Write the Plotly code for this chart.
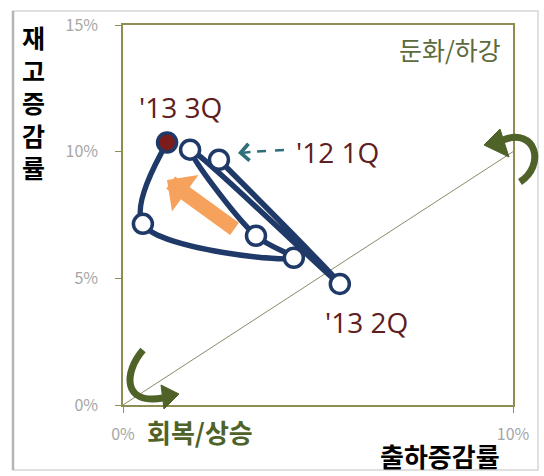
import plotly.graph_objects as go

# Data (percent)
quarters = ["'12 1Q", "p2", "p3", "p4", "p5", "p6", "'13 3Q"]
shipment_growth = [2.46, 5.56, 1.72, 3.41, 4.38, 0.51, 1.13]   # 출하증감률 (%)
inventory_growth = [9.68, 4.78, 10.08, 6.68, 5.81, 7.15, 10.36]  # 재고증감률 (%)
marker_fill = ["white"] * 6 + ["#7B1C1C"]

x_ticks = [0, 10]
x_ticktext = ["0%", "10%"]
y_ticks = [0, 5, 10, 15]
y_ticktext = ["0%", "5%", "10%", "15%"]

# layout geometry
W, H = 544, 476
ML, MR, MT, MB = 123, 31, 25, 71
PW, PH = W - ML - MR, H - MT - MB


def pp(x, y):
    """pixel -> paper coords (for decorations)"""
    return (x - ML) / PW, (H - MB - y) / PH


def path(cmds):
    out = []
    for c in cmds:
        if isinstance(c, str):
            out.append(c)
        else:
            a, b = pp(*c)
            out.append(f"{a:.4f},{b:.4f}")
    return " ".join(out)


NAVY = "#1F3A68"
OLIVE = "#8E8E52"
GREEN = "#4F6228"
GRAY = "#A6A6A6"
KR = "Noto Sans CJK KR"

fig = go.Figure()

# diagonal reference line
fig.add_trace(go.Scatter(x=[0, 10], y=[0, 10], mode="lines",
                         line=dict(color="#8A8A6A", width=1), hoverinfo="skip",
                         showlegend=False))

fig.add_trace(go.Scatter(
    x=shipment_growth, y=inventory_growth, mode="lines+markers",
    line=dict(color=NAVY, width=5.5, shape="spline", smoothing=1.0),
    marker=dict(size=19, color=marker_fill, line=dict(color=NAVY, width=3.5)),
    showlegend=False, text=quarters))

shapes = []
# outer frame
x0, y0 = pp(13, 470)
x1, y1 = pp(538, 11)
shapes.append(dict(type="rect", xref="paper", yref="paper", x0=x0, y0=y0, x1=x1, y1=y1,
                   line=dict(color="#D6D6D6", width=1.5), layer="below"))
shapes.append(dict(type="line", xref="paper", yref="paper", x0=x0, y0=y0, x1=x0, y1=y1,
                   line=dict(color="#B5B5B5", width=2.5)))

# green curved arrows (decoration)
shapes.append(dict(type="path", xref="paper", yref="paper",
                   path=path(["M", (520, 182), "C", (546, 165), (536, 127), (503, 140)]),
                   line=dict(color=GREEN, width=7)))
shapes.append(dict(type="path", xref="paper", yref="paper",
                   path=path(["M", (484, 145), "L", (500, 129), "L", (509, 157), "Z"]),
                   fillcolor=GREEN, line=dict(color=GREEN, width=1)))
shapes.append(dict(type="path", xref="paper", yref="paper",
                   path=path(["M", (143, 350), "C", (124, 372), (122, 405), (163, 398)]),
                   line=dict(color=GREEN, width=7)))
shapes.append(dict(type="path", xref="paper", yref="paper",
                   path=path(["M", (179, 394), "L", (161, 385), "L", (164, 409), "Z"]),
                   fillcolor=GREEN, line=dict(color=GREEN, width=1)))

# dashed teal pointer line
a0, b0 = pp(284, 150)
a1, b1 = pp(250, 152)
shapes.append(dict(type="line", xref="paper", yref="paper", x0=a0, y0=b0, x1=a1, y1=b1,
                   line=dict(color="#2F6E7A", width=2.5, dash="dash")))

annotations = []
# orange arrow
tx, ty = pp(167, 180)
sx, sy = pp(236, 230)
annotations.append(dict(xref="paper", yref="paper", x=tx, y=ty, axref="pixel", ayref="pixel",
                        ax=sx * PW - tx * PW, ay=-(sy * PH - ty * PH), text="",
                        showarrow=True, arrowhead=1, arrowsize=0.5, arrowwidth=15,
                        arrowcolor="#F7A25C"))
# teal arrowhead
hx, hy = pp(238, 153)
annotations.append(dict(xref="paper", yref="paper", x=hx, y=hy, ax=14, ay=-1, text="",
                        showarrow=True, arrowhead=4, arrowsize=1.3, arrowwidth=2.5,
                        arrowcolor="#2F6E7A"))


def label(text, px_, py_, size, color, family=KR, bold=False, xanchor="center"):
    a, b = pp(px_, py_)
    t = f"<b>{text}</b>" if bold else text
    annotations.append(dict(xref="paper", yref="paper", x=a, y=b, text=t, showarrow=False,
                            xanchor=xanchor, yanchor="middle", borderpad=0,
                            font=dict(family=family, size=size, color=color)))


label("'13 3Q", 180, 107, 28, "#5E2020", family="Open Sans")
label("'12 1Q", 337, 152, 28, "#5E2020", family="Open Sans")
label("'13 2Q", 366, 322, 28, "#5E2020", family="Open Sans")
label("둔화/하강", 450, 49, 25, "#5B6B3C")
label("회복/상승", 200, 432, 26, GREEN, bold=True)
label("재<br>고<br>증<br>감<br>률", 33, 102, 25, "#000000", bold=True)
label("출하증감률", 440, 455, 26, "#000000", bold=True)

fig.update_layout(
    width=W, height=H, margin=dict(l=ML, r=MR, t=MT, b=MB, pad=0),
    paper_bgcolor="white", plot_bgcolor="white",
    shapes=shapes, annotations=annotations,
    xaxis=dict(range=[0, 10], tickvals=x_ticks, ticktext=x_ticktext, showgrid=False,
               zeroline=False, showline=True, linecolor=OLIVE, linewidth=1.5, mirror=True,
               ticks="outside", ticklen=6, tickcolor=OLIVE, ticklabelstandoff=8,
               tickfont=dict(family=KR, size=16, color=GRAY)),
    yaxis=dict(range=[0, 15], tickvals=y_ticks, ticktext=y_ticktext, showgrid=False,
               zeroline=False, showline=True, linecolor=OLIVE, linewidth=1.5, mirror=True,
               ticks="outside", ticklen=6, tickcolor=OLIVE, ticklabelstandoff=14,
               tickfont=dict(family=KR, size=16, color=GRAY)),
)

fig.write_html("out.html")
